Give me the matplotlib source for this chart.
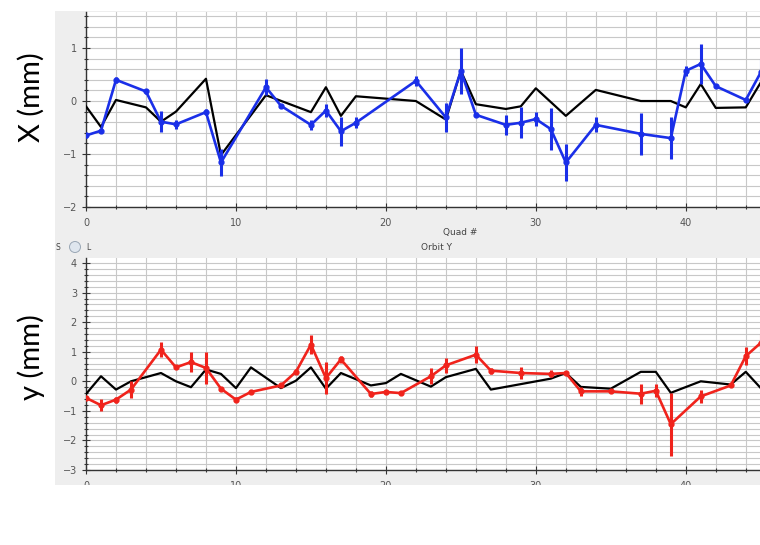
import numpy as np
import matplotlib
matplotlib.use("Agg")
import matplotlib.pyplot as plt
from matplotlib.patches import Rectangle, Ellipse

# --- orbit X (top panel) ---
quad_x_model = [0, 1, 2, 4, 5, 6, 8, 9, 12, 15, 16, 17, 18, 22, 24, 25, 26, 28, 29, 30,
                32, 34, 37, 39, 40, 41, 42, 44, 45]
x_model = [-0.1, -0.49, 0.02, -0.12, -0.39, -0.2, 0.42, -1.02, 0.11, -0.21, 0.26, -0.28,
           0.09, 0.0, -0.35, 0.57, -0.06, -0.15, -0.1, 0.24, -0.28, 0.21, 0.0, 0.0, -0.12,
           0.32, -0.13, -0.12, 0.35]

quad_x_meas = [0, 1, 2, 4, 5, 6, 8, 9, 12, 13, 15, 16, 17, 18, 22, 24, 25, 26, 28, 29, 30,
               31, 32, 34, 37, 39, 40, 41, 42, 44, 45]
x_meas = [-0.65, -0.56, 0.40, 0.18, -0.39, -0.44, -0.21, -1.16, 0.26, -0.09, -0.45, -0.18,
          -0.57, -0.41, 0.38, -0.31, 0.57, -0.26, -0.45, -0.41, -0.34, -0.53, -1.16, -0.45,
          -0.62, -0.70, 0.57, 0.70, 0.28, 0.02, 0.54]
x_err = [0.05, 0.04, 0.06, 0.04, 0.2, 0.08, 0.06, 0.25, 0.15, 0.04, 0.1, 0.12, 0.27, 0.1,
         0.1, 0.28, 0.44, 0.05, 0.19, 0.29, 0.14, 0.4, 0.35, 0.14, 0.4, 0.4, 0.1, 0.38,
         0.04, 0.04, 0.26]

# --- orbit Y (bottom panel) ---
quad_y_model = [0, 1, 2, 3, 5, 6, 7, 8, 9, 10, 11, 13, 14, 15, 16, 17, 19, 20, 21, 23, 24,
                26, 27, 31, 32, 33, 35, 37, 38, 39, 41, 43, 44, 45]
y_model = [-0.43, 0.17, -0.28, 0.0, 0.28, 0.0, -0.2, 0.4, 0.25, -0.23, 0.47, -0.23, 0.02,
           0.47, -0.25, 0.28, -0.14, -0.06, 0.25, -0.18, 0.14, 0.42, -0.28, 0.09, 0.28,
           -0.19, -0.25, 0.32, 0.32, -0.39, 0.0, -0.11, 0.32, -0.23]

quad_y_meas = [0, 1, 2, 3, 5, 6, 7, 8, 9, 10, 11, 13, 14, 15, 16, 17, 19, 20, 21, 23, 24,
               26, 27, 29, 31, 32, 33, 35, 37, 38, 39, 41, 43, 44, 45]
y_meas = [-0.56, -0.81, -0.62, -0.28, 1.07, 0.47, 0.65, 0.45, -0.25, -0.62, -0.36, -0.14,
          0.32, 1.24, 0.11, 0.74, -0.43, -0.36, -0.40, 0.17, 0.54, 0.9, 0.36, 0.28, 0.25,
          0.28, -0.34, -0.34, -0.42, -0.32, -1.45, -0.51, -0.14, 0.85, 1.3]
y_err = [0.06, 0.2, 0.1, 0.28, 0.26, 0.06, 0.35, 0.55, 0.06, 0.08, 0.05, 0.05, 0.08, 0.33,
         0.53, 0.12, 0.1, 0.05, 0.05, 0.27, 0.25, 0.28, 0.1, 0.19, 0.12, 0.05, 0.15, 0.06,
         0.34, 0.22, 1.07, 0.22, 0.05, 0.3, 0.3]

W, H = 760, 545
PANEL = "#eeeeee"
GRID = "#c8c8c8"
TICK = "#555555"


def fx(px):
    return px / W


def fy(py):
    return 1 - py / H


fig = plt.figure(figsize=(7.6, 5.45), dpi=100)
fig.patch.set_facecolor("white")

# grey application panel behind both plots
fig.add_artist(Rectangle((fx(55), fy(485)), fx(760) - fx(55), fy(11) - fy(485),
                         transform=fig.transFigure, facecolor=PANEL, edgecolor="none",
                         zorder=-10))

ax1 = fig.add_axes([fx(86), fy(207), 1 - fx(86), fy(12) - fy(207)])
ax2 = fig.add_axes([fx(86), fy(470), 1 - fx(86), fy(258) - fy(470)])


def style(ax, ylim, yticks):
    ax.set_facecolor("white")
    ax.set_xlim(0, 44.95)
    ax.set_ylim(*ylim)
    ax.set_xticks([0, 10, 20, 30, 40])
    ax.set_xticks(np.arange(0, 46, 2), minor=True)
    ax.set_yticks(yticks)
    ax.set_yticks(np.arange(ylim[0], ylim[1] + 0.01, 0.2), minor=True)
    ax.grid(True, which="both", color=GRID, linewidth=0.8)
    ax.set_axisbelow(True)
    for s in ["top", "right"]:
        ax.spines[s].set_visible(False)
    for s in ["left", "bottom"]:
        ax.spines[s].set_color("#333333")
        ax.spines[s].set_linewidth(1.0)
    ax.tick_params(which="both", direction="inout", colors="#333333", labelcolor=TICK,
                   labelsize=7, width=0.8)
    ax.tick_params(which="major", length=6)
    ax.tick_params(which="minor", length=3)
    ax.tick_params(axis="x", pad=5)


style(ax1, (-2, 1.68), [-2, -1, 0, 1])
style(ax2, (-3, 4.17), [-3, -2, -1, 0, 1, 2, 3, 4])

# top: X orbit
ax1.plot(quad_x_model, x_model, color="black", linewidth=1.6, zorder=3)
ax1.errorbar(quad_x_meas, x_meas, yerr=x_err, color="#1a2fe8", linewidth=1.9,
             elinewidth=2.2, capsize=0, marker="o", markersize=3.5, zorder=4)

# bottom: Y orbit
ax2.plot(quad_y_model, y_model, color="black", linewidth=1.6, zorder=3)
ax2.errorbar(quad_y_meas, y_meas, yerr=y_err, color="#f0231c", linewidth=1.9,
             elinewidth=2.2, capsize=0, marker="o", markersize=3.5, zorder=4)

# small panel captions
fig.text(fx(460), fy(233), "Quad #", fontsize=6.5, color="#444444", ha="center", va="center")
fig.text(fx(437), fy(247), "Orbit Y", fontsize=6.5, color="#444444", ha="center", va="center")
fig.text(fx(58), fy(247), "S", fontsize=5.5, color="#444444", ha="center", va="center")
fig.add_artist(Ellipse((fx(75), fy(247)), 11 / W, 11 / H, transform=fig.transFigure,
                       facecolor="#dfe6ee", edgecolor="#9aa7b5", linewidth=0.7))
fig.text(fx(88), fy(247), "L", fontsize=5.5, color="#444444", ha="center", va="center")

# cover the lower half of the bottom tick labels (panel is cut there)
fig.add_artist(Rectangle((0, 0), 1, fy(485), transform=fig.transFigure,
                         facecolor="white", edgecolor="none", zorder=10))

# big slide labels
big = dict(fontsize=21, color="black", family=["Lato", "DejaVu Sans"])
fig.text(fx(31), fy(97), "X (mm)", rotation=90, ha="center", va="center", **big)
fig.text(fx(31), fy(357), "y (mm)", rotation=90, ha="center", va="center", **big)
fig.text(fx(435), fy(527), "s (m)", ha="center", va="center", **big)

fig.savefig("out.png", dpi=100)
